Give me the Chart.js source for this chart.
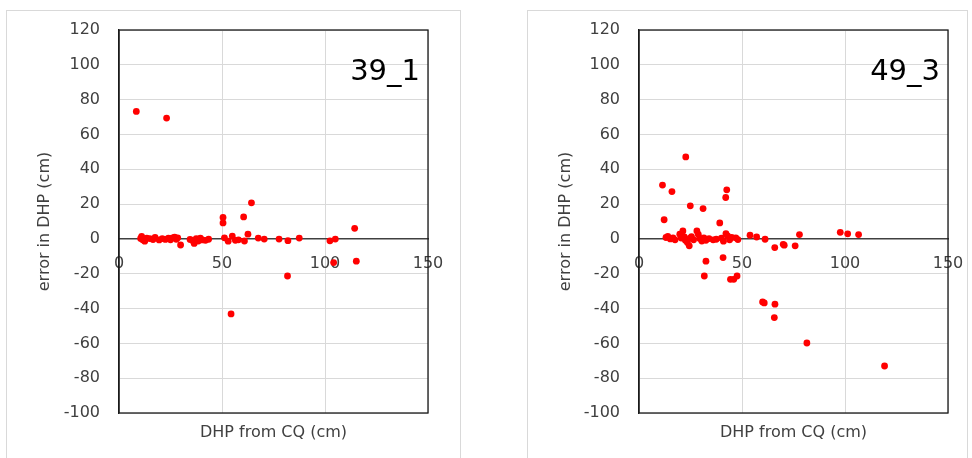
<!DOCTYPE html>
<html>
<head>
<meta charset="utf-8">
<script src="https://cdn.jsdelivr.net/npm/chart.js@4/dist/chart.umd.min.js"></script>
<style>
  html, body { margin: 0; padding: 0; background: #fff; width: 972px; height: 458px; overflow: hidden; }
  .frame { position: absolute; border: 1px solid #d9d9d9; box-sizing: border-box; background: #fff; }
  canvas { position: absolute; left: 0; top: 0; }
</style>
</head>
<body>
<div class="frame" id="f1" style="left:6px; top:10px; width:455px; height:460px;">
  <canvas id="c1" width="454" height="448"></canvas>
</div>
<div class="frame" id="f2" style="left:527px; top:10px; width:441px; height:460px;">
  <canvas id="c2" width="440" height="448"></canvas>
</div>
<script>
// ---- data ----
const labelLeft = "39_1";
const labelRight = "49_3";
const xTitle = "DHP from CQ (cm)";
const yTitle = "error in DHP (cm)";
const xTicks = [0, 50, 100, 150];
const yTicks = [-100, -80, -60, -40, -20, 0, 20, 40, 60, 80, 100, 120];

const dhpLeft = [8.4, 23.1,
  10.5, 11, 11.5, 12.5, 13.5, 15, 16.5, 17.5, 19.5, 21, 22.5, 24, 25, 26, 27, 27.8, 28.5, 29.9,
  34.5, 35.5, 36.5, 37.5, 38.5, 39.5, 40.5, 42, 43.5,
  50.5, 50.5, 51.2, 53, 55, 56.5, 58, 60.9, 60.5, 62.6, 64.3,
  67.6, 70.5, 77.7, 82, 87.5, 102.4, 105, 114.4, 115.2, 104.2, 81.8, 54.4];
const errLeft = [73.2, 69.4,
  0.3, 1.5, -0.5, -1.3, 0.5, 0.2, -0.4, 0.8, -0.6, 0.2, -0.3, 0.4, -0.5, 0.6, 1.0, -0.2, 0.6, -3.5,
  -0.3, -0.8, -2.6, 0.2, -1.2, 0.4, -0.6, -0.8, -0.2,
  12.3, 9.2, 0.6, -1.3, 1.6, -0.8, -0.5, -1.2, 12.6, 2.7, 20.7,
  0.5, -0.1, -0.1, -1.0, 0.5, -1.1, -0.1, 6.1, -12.8, -13.6, -21.3, -43.1];

const dhpRight = [11.4, 16, 22.7, 12.2, 24.9, 31.1, 42.6, 42.1, 39.2,
  13.1, 14, 15.2, 16.5, 17.5, 19.8, 20.5, 21.3, 22, 22.5, 23.5, 24.4, 24.8, 25.5, 26.5, 28.1, 28.8, 29.5, 30.5, 31.5, 32.5, 34, 36, 37.5, 40, 41, 42.2, 43, 44, 45, 47, 48,
  53.9, 57.1, 61.2, 65.9, 70, 70.5, 75.8, 77.9, 97.7, 101.3, 106.6,
  32.5, 31.7, 40.8, 44.4, 46, 47.6,
  60, 60.8, 66, 65.7, 81.5, 119.2];
const errRight = [30.9, 27.2, 47.1, 11, 19, 17.4, 28.2, 23.8, 9.2,
  0.8, 1.5, 0, 0.6, -0.5, 2.7, 0.5, 4.6, 1.2, -0.8, -2.1, -4, 0.4, 1.3, -0.5, 4.6, 2.6, 0.3, -1.2, 0.6, -0.8, 0.2, -0.5, -0.2, 0.5, -1.3, 3, 1.8, -0.5, 0.8, 0.6, -0.4,
  2.1, 1.1, -0.2, -5, -3.1, -3.6, -4, 2.5, 3.8, 2.9, 2.5,
  -12.8, -21.3, -10.7, -23.2, -23.2, -21.3,
  -36.2, -36.8, -37.5, -45.2, -59.8, -73];

const FONT = "'DejaVu Sans', Verdana, sans-serif";
const TXT = '#404040';

function pts(xs, ys) { return xs.map((x, i) => ({x: x, y: ys[i]})); }

const framePlugin = {
  id: 'frame',
  afterDraw(chart, args, opts) {
    const a = chart.chartArea, ctx = chart.ctx;
    ctx.save();
    ctx.strokeStyle = '#1a1a1a';
    ctx.lineWidth = 1.3;
    ctx.strokeRect(a.left, a.top, a.right - a.left, a.bottom - a.top);
    ctx.fillStyle = '#000';
    ctx.font = '29px ' + FONT;
    ctx.textAlign = 'right';
    ctx.textBaseline = 'alphabetic';
    ctx.fillText(opts.label, a.right - 8, a.top + 50);
    ctx.restore();
  }
};

function makeChart(id, xs, ys, label, yAxisWidth, padRight) {
  return new Chart(document.getElementById(id), {
    type: 'scatter',
    data: { datasets: [{ data: pts(xs, ys), backgroundColor: '#ff0000', borderColor: '#ff0000', borderWidth: 0, pointRadius: 3.4, pointHoverRadius: 3.4 }] },
    plugins: [framePlugin],
    options: {
      responsive: false, animation: false, devicePixelRatio: 1,
      layout: { padding: { left: 24, top: 19, right: padRight, bottom: 0 } },
      plugins: { legend: { display: false }, tooltip: { enabled: false }, frame: { label: label } },
      scales: {
        x: {
          type: 'linear', min: 0, max: 150, position: { y: 0 },
          afterBuildTicks: s => { s.ticks = xTicks.map(v => ({ value: v })); },
          afterFit: s => { s.paddingLeft = 0; s.paddingRight = 0; },
          ticks: { padding: 15, font: { size: 16, family: FONT }, color: TXT, maxRotation: 0, autoSkip: false },
          grid: { color: '#d9d9d9', lineWidth: 1, drawTicks: false },
          border: { color: '#404040', width: 1.5 }
        },
        y: {
          type: 'linear', min: -100, max: 120,
          afterBuildTicks: s => { s.ticks = yTicks.map(v => ({ value: v })); },
          afterFit: s => { s.width = yAxisWidth; s.paddingTop = 0; s.paddingBottom = 0; },
          ticks: { padding: 19, font: { size: 16, family: FONT }, color: TXT, autoSkip: false },
          grid: { color: '#d9d9d9', lineWidth: 1, drawTicks: false },
          border: { color: '#1a1a1a', width: 1.3 },
          title: { display: true, text: yTitle, font: { size: 16, family: FONT }, color: TXT, padding: { top: 4, bottom: 0 } }
        },
        xb: {
          type: 'linear', axis: 'x', position: 'bottom',
          afterFit: s => { s.height = 46; s.paddingLeft = 0; s.paddingRight = 0; },
          ticks: { display: false },
          grid: { display: false },
          border: { display: false },
          title: { display: true, text: xTitle, font: { size: 16, family: FONT }, color: TXT, padding: { top: 0, bottom: 17 } }
        }
      }
    }
  });
}

makeChart('c1', dhpLeft, errLeft, labelLeft, 88, 33);
makeChart('c2', dhpRight, errRight, labelRight, 87, 20);
</script>
</body>
</html>
